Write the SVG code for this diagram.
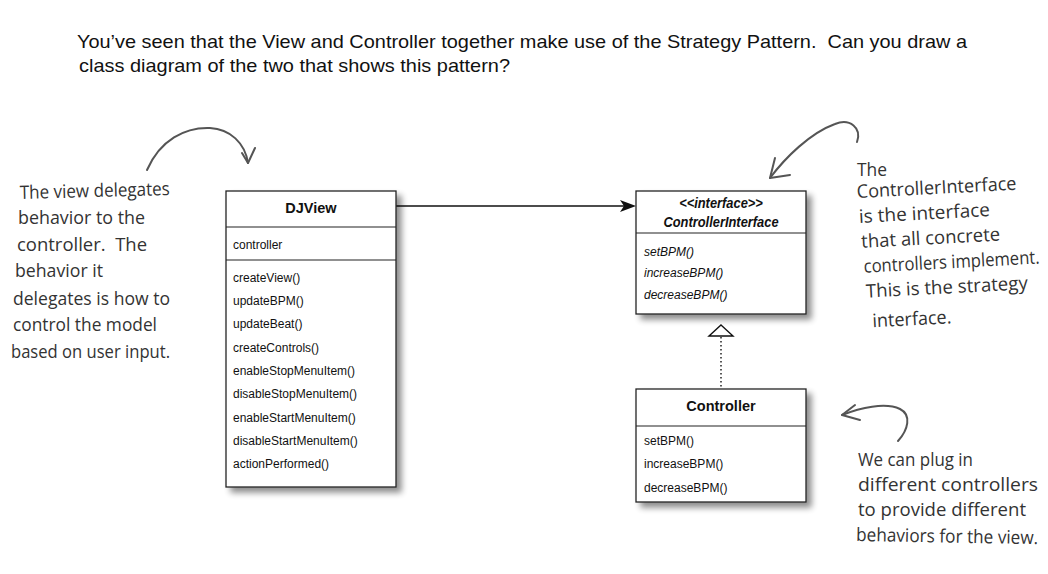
<svg xmlns="http://www.w3.org/2000/svg" width="1048" height="574" viewBox="0 0 1048 574">
<style>
.box{fill:#fff;stroke:#222;stroke-width:1.3}
.div{stroke:#222;stroke-width:1.2}
.t{font-family:"Liberation Sans",Arial,sans-serif;font-size:13.5px;fill:#111}
.h{font-family:"Liberation Sans",Arial,sans-serif;font-size:14.5px;font-weight:bold;fill:#111}
.hi{font-family:"Liberation Sans",Arial,sans-serif;font-size:14px;font-weight:bold;font-style:italic;fill:#111}
.it{font-style:italic}
.title{font-family:"Liberation Sans",Arial,sans-serif;font-size:18.5px;fill:#111}
.hand{font-family:"Open Sans","DejaVu Sans",sans-serif;font-size:18.5px;fill:#333}
.curve{fill:none;stroke:#555;stroke-width:2;stroke-linecap:round;stroke-linejoin:round}
</style>
<defs>
<filter id="sh" x="-20%" y="-20%" width="150%" height="150%">
<feGaussianBlur in="SourceAlpha" stdDeviation="3"/>
<feOffset dx="5" dy="5"/>
<feComponentTransfer><feFuncA type="linear" slope="0.45"/></feComponentTransfer>
<feMerge><feMergeNode/><feMergeNode in="SourceGraphic"/></feMerge>
</filter>
</defs>
<rect width="1048" height="574" fill="#fff"/>

<g id="title">
<text class="title" x="77" y="48" textLength="890" lengthAdjust="spacingAndGlyphs" xml:space="preserve">You’ve seen that the View and Controller together make use of the Strategy Pattern.  Can you draw a</text>
<text class="title" x="79" y="72" textLength="431" lengthAdjust="spacingAndGlyphs">class diagram of the two that shows this pattern?</text>
</g>

<g id="connectors">
<line x1="396" y1="206" x2="626" y2="206" stroke="#111" stroke-width="1.4"/>
<path d="M636,206 L620,200 L624,206 L620,212 Z" fill="#111"/>
<line x1="721" y1="337" x2="721" y2="388" stroke="#222" stroke-width="1.5" stroke-dasharray="1.5,2.5"/>
<path d="M721,325 L733,336 L709,336 Z" fill="#fff" stroke="#111" stroke-width="1.4"/>
</g>

<g id="djview">
<rect class="box" x="226" y="191" width="170" height="296" filter="url(#sh)"/>
<line class="div" x1="226" y1="227" x2="396" y2="227"/>
<line class="div" x1="226" y1="260" x2="396" y2="260"/>
<text class="h" x="311" y="213" text-anchor="middle">DJView</text>
<g transform="translate(233 0) scale(0.89 1)">
<text class="t" x="0" y="249">controller</text>
<text class="t" x="0" y="282">createView()</text>
<text class="t" x="0" y="305">updateBPM()</text>
<text class="t" x="0" y="328">updateBeat()</text>
<text class="t" x="0" y="352">createControls()</text>
<text class="t" x="0" y="375">enableStopMenuItem()</text>
<text class="t" x="0" y="398">disableStopMenuItem()</text>
<text class="t" x="0" y="422">enableStartMenuItem()</text>
<text class="t" x="0" y="445">disableStartMenuItem()</text>
<text class="t" x="0" y="468">actionPerformed()</text>
</g>
</g>

<g id="controllerinterface">
<rect class="box" x="636" y="191" width="170" height="123" filter="url(#sh)"/>
<line class="div" x1="636" y1="233" x2="806" y2="233"/>
<g transform="translate(721 0) scale(0.92 1)">
<text class="hi" x="0" y="208" text-anchor="middle" font-size="13.5">&lt;&lt;interface&gt;&gt;</text>
<text class="hi" x="0" y="227" text-anchor="middle">ControllerInterface</text>
</g>
<g transform="translate(644 0) scale(0.89 1)">
<text class="t it" x="0" y="256">setBPM()</text>
<text class="t it" x="0" y="277">increaseBPM()</text>
<text class="t it" x="0" y="299">decreaseBPM()</text>
</g>
</g>

<g id="controller">
<rect class="box" x="636" y="389" width="170" height="113" filter="url(#sh)"/>
<line class="div" x1="636" y1="426" x2="806" y2="426"/>
<text class="h" x="721" y="411" text-anchor="middle">Controller</text>
<g transform="translate(644 0) scale(0.89 1)">
<text class="t" x="0" y="445">setBPM()</text>
<text class="t" x="0" y="468">increaseBPM()</text>
<text class="t" x="0" y="492">decreaseBPM()</text>
</g>
</g>

<g id="note-left">
<path class="curve" d="M147,170 C160,140 185,127 210,128 C230,129 245,143 248,163"/>
<path class="curve" d="M242,153 L248,163 L255,148"/>
<text class="hand" x="20" y="199" textLength="150" lengthAdjust="spacingAndGlyphs" transform="rotate(-1.5 20 199)">The view delegates</text>
<text class="hand" x="18" y="224" textLength="127" lengthAdjust="spacingAndGlyphs">behavior to the</text>
<text class="hand" x="17" y="251" textLength="130" lengthAdjust="spacingAndGlyphs" xml:space="preserve">controller.  The</text>
<text class="hand" x="15" y="277" textLength="88" lengthAdjust="spacingAndGlyphs">behavior it</text>
<text class="hand" x="13" y="305" textLength="157" lengthAdjust="spacingAndGlyphs">delegates is how to</text>
<text class="hand" x="13" y="331" textLength="144" lengthAdjust="spacingAndGlyphs">control the model</text>
<text class="hand" x="11" y="358" textLength="159" lengthAdjust="spacingAndGlyphs">based on user input.</text>
</g>

<g id="note-top-right">
<path class="curve" d="M857,142 C862,128 850,118 835,124 C810,133 785,158 770,178"/>
<path class="curve" d="M775,158 L770,178 L790,175"/>
<text class="hand" x="857" y="176" textLength="30" lengthAdjust="spacingAndGlyphs">The</text>
<g transform="rotate(-3 857 198)">
<text class="hand" x="857" y="198" textLength="160" lengthAdjust="spacingAndGlyphs">ControllerInterface</text>
<text class="hand" x="858" y="223" textLength="131" lengthAdjust="spacingAndGlyphs">is the interface</text>
<text class="hand" x="859" y="248" textLength="139" lengthAdjust="spacingAndGlyphs">that all concrete</text>
<text class="hand" x="0" y="0" transform="translate(860 273) scale(0.9 1)">controllers implement.</text>
<text class="hand" x="861" y="298" textLength="162" lengthAdjust="spacingAndGlyphs">This is the strategy</text>
<text class="hand" x="866" y="328" textLength="79" lengthAdjust="spacingAndGlyphs">interface.</text>
</g>
</g>

<g id="note-bottom-right">
<path class="curve" d="M898,441 C908,430 912,415 900,409 C885,402 860,408 842,415"/>
<path class="curve" d="M855,405 L842,415 L860,420"/>
<text class="hand" x="858" y="466" textLength="115" lengthAdjust="spacingAndGlyphs">We can plug in</text>
<text class="hand" x="858" y="491" textLength="180" lengthAdjust="spacingAndGlyphs">different controllers</text>
<text class="hand" x="858" y="516" textLength="168" lengthAdjust="spacingAndGlyphs">to provide different</text>
<text class="hand" x="0" y="0" transform="translate(856 541) rotate(1) scale(0.93 1)">behaviors for the view.</text>
</g>
</svg>
